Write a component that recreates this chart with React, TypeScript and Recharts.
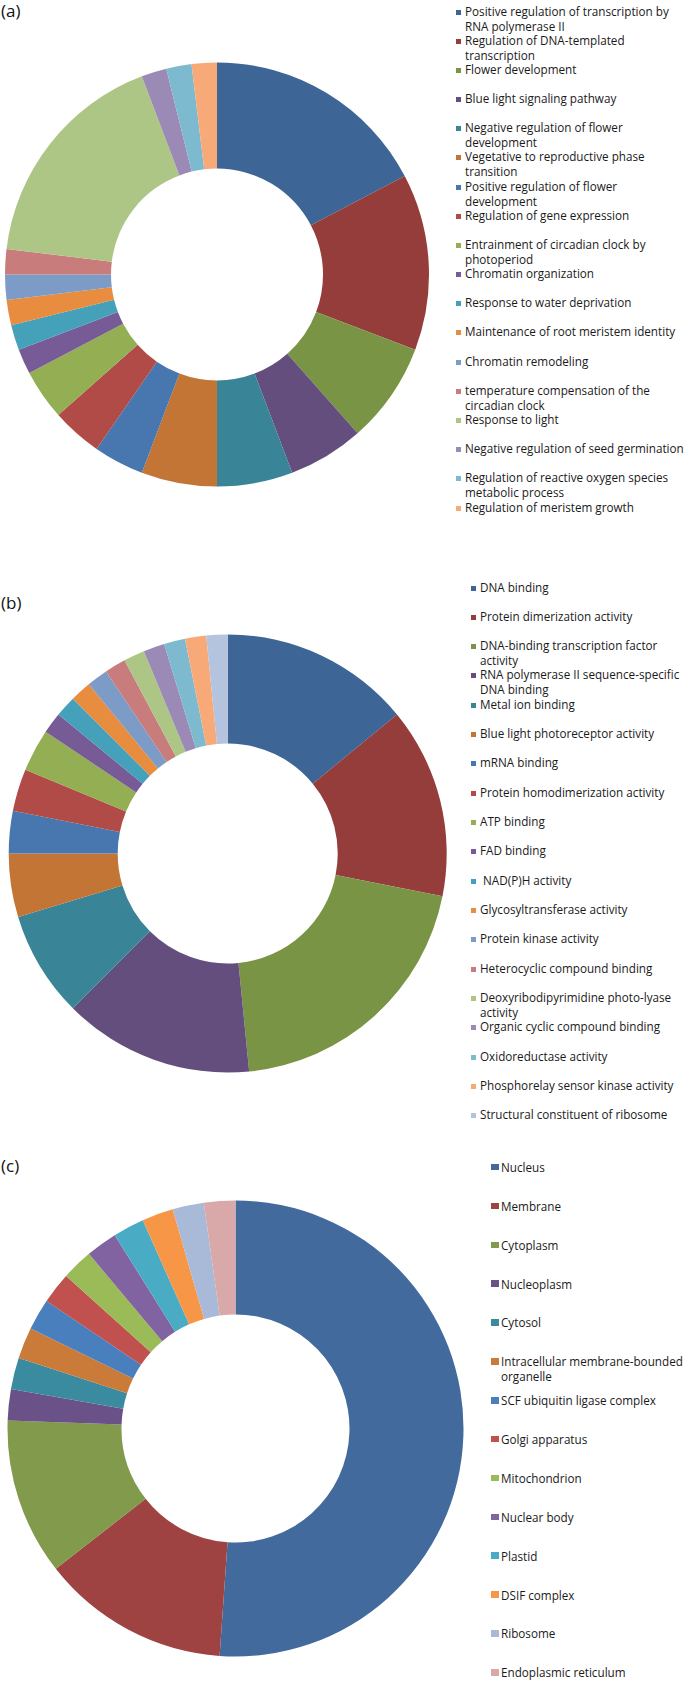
import React from 'react';
import { PieChart, Pie, Legend } from 'recharts';

// (a) Biological process
const bpNames = [
  'Positive regulation of transcription by\nRNA polymerase II',
  'Regulation of DNA-templated\ntranscription',
  'Flower development',
  'Blue light signaling pathway',
  'Negative regulation of flower\ndevelopment',
  'Vegetative to reproductive phase\ntransition',
  'Positive regulation of flower\ndevelopment',
  'Regulation of gene expression',
  'Entrainment of circadian clock by\nphotoperiod',
  'Chromatin organization',
  'Response to water deprivation',
  'Maintenance of root meristem identity',
  'Chromatin remodeling',
  'temperature compensation of the\ncircadian clock',
  'Response to light',
  'Negative regulation of seed germination',
  'Regulation of reactive oxygen species\nmetabolic process',
  'Regulation of meristem growth',
];
const bpValues = [9, 7, 4, 3, 3, 3, 2, 2, 2, 1, 1, 1, 1, 1, 9, 1, 1, 1];
const bpColors = [
  '#3D6696', '#943D3B', '#7A9446', '#644E7E', '#398496', '#C27535',
  '#4876AF', '#B04B48', '#93AE53', '#775B97', '#45A1BA', '#E88C40',
  '#7C9BC7', '#C97C7C', '#ADC686', '#9B8AB5', '#7DBAD0', '#F7AA77',
];

// (b) Molecular function
const mfNames = [
  'DNA binding',
  'Protein dimerization activity',
  'DNA-binding transcription factor\nactivity',
  'RNA polymerase II sequence-specific\nDNA binding',
  'Metal ion binding',
  'Blue light photoreceptor activity',
  'mRNA binding',
  'Protein homodimerization activity',
  'ATP binding',
  'FAD binding',
  ' NAD(P)H activity',
  'Glycosyltransferase activity',
  'Protein kinase activity',
  'Heterocyclic compound binding',
  'Deoxyribodipyrimidine photo-lyase\nactivity',
  'Organic cyclic compound binding',
  'Oxidoreductase activity',
  'Phosphorelay sensor kinase activity',
  'Structural constituent of ribosome',
];
const mfValues = [9, 9, 13, 9, 5, 3, 2, 2, 2, 1, 1, 1, 1, 1, 1, 1, 1, 1, 1];
const mfColors = [
  '#3D6696', '#943D3B', '#7A9446', '#644E7E', '#398496', '#C27535',
  '#4876AF', '#B04B48', '#93AE53', '#775B97', '#45A1BA', '#E88C40',
  '#7C9BC7', '#C97C7C', '#ADC686', '#9B8AB5', '#7DBAD0', '#F7AA77', '#B4C3DE',
];

// (c) Cellular component
const ccNames = [
  'Nucleus',
  'Membrane',
  'Cytoplasm',
  'Nucleoplasm',
  'Cytosol',
  'Intracellular membrane-bounded\norganelle',
  'SCF ubiquitin ligase complex',
  'Golgi apparatus',
  'Mitochondrion',
  'Nuclear body',
  'Plastid',
  'DSIF complex',
  'Ribosome',
  'Endoplasmic reticulum',
];
const ccValues = [23, 6, 5, 1, 1, 1, 1, 1, 1, 1, 1, 1, 1, 1];
const ccColors = [
  '#426A9C', '#9E4342', '#819A4B', '#6A5289', '#3A8AA0', '#CB7B39',
  '#4A7FBE', '#C0514F', '#9BBA58', '#8063A0', '#4AABC5', '#F79647',
  '#A9B9D8', '#D9A9A9',
];

const panelLabels = ['(a)', '(b)', '(c)'];

const FONT = '"Open Sans", Lato, sans-serif';

type LegendCfg = {
  textX: number;
  sqX: number;
  sqW: number;
  sqH: number;
  sqTop: number;
  firstTop: number;
  step: number;
  fontSize: number;
  lineHeight: number;
  height: number;
};

function makeLegend(names: string[], colors: string[], cfg: LegendCfg) {
  return () => (
    <div style={{ position: 'relative', width: 685, height: cfg.height }}>
      {names.map((n, i) => (
        <div
          key={i}
          style={{
            position: 'absolute',
            left: cfg.textX,
            top: cfg.firstTop + i * cfg.step,
            whiteSpace: 'pre',
            fontFamily: FONT,
            fontSize: cfg.fontSize,
            lineHeight: `${cfg.lineHeight}px`,
            color: '#1a1a1a',
          }}
        >
          <span
            style={{
              position: 'absolute',
              left: cfg.sqX - cfg.textX,
              top: cfg.sqTop,
              width: cfg.sqW,
              height: cfg.sqH,
              background: colors[i],
            }}
          />
          {n}
        </div>
      ))}
    </div>
  );
}

function toData(names: string[], values: number[], colors: string[]) {
  return names.map((n, i) => ({ name: n.replace('\n', ' ').trim(), value: values[i], fill: colors[i] }));
}

const bpData = toData(bpNames, bpValues, bpColors);
const mfData = toData(mfNames, mfValues, mfColors);
const ccData = toData(ccNames, ccValues, ccColors);

type PanelProps = {
  top: number;
  height: number;
  data: { name: string; value: number; fill: string }[];
  cx: number;
  cy: number;
  inner: number;
  outer: number;
  legend: () => React.ReactElement;
};

function Panel({ top, height, data, cx, cy, inner, outer, legend }: PanelProps) {
  return (
    <div style={{ position: 'absolute', left: 0, top, width: 685, height }}>
      <PieChart width={685} height={height} margin={{ top: 0, right: 0, bottom: 0, left: 0 }}>
        <Pie
          data={data}
          dataKey="value"
          nameKey="name"
          cx={cx}
          cy={cy}
          innerRadius={inner}
          outerRadius={outer}
          startAngle={90}
          endAngle={-270}
          stroke="none"
          isAnimationActive={false}
        />
        <Legend
          layout="horizontal"
          align="center"
          verticalAlign="middle"
          content={legend}
          wrapperStyle={{ left: 0, top: 0, width: 685, height, pointerEvents: 'none' }}
        />
      </PieChart>
    </div>
  );
}

const labelTops = [1, 593, 1156];

export default function App() {
  return (
    <div style={{ position: 'absolute', left: 0, top: 0, width: 685, height: 1681, background: '#fff', overflow: 'hidden' }}>
      <Panel
        top={0}
        height={560}
        data={bpData}
        cx={217}
        cy={274.5}
        inner={106}
        outer={212}
        legend={makeLegend(bpNames, bpColors, {
          textX: 465, sqX: 456, sqW: 5, sqH: 5, sqTop: 6, firstTop: 3.5, step: 29.18,
          fontSize: 11.7, lineHeight: 15, height: 560,
        })}
      />
      <Panel
        top={560}
        height={590}
        data={mfData}
        cx={227.7}
        cy={293.5}
        inner={110}
        outer={219}
        legend={makeLegend(mfNames, mfColors, {
          textX: 480, sqX: 471, sqW: 5, sqH: 5, sqTop: 6, firstTop: 19.5, step: 29.33,
          fontSize: 11.7, lineHeight: 15, height: 590,
        })}
      />
      <Panel
        top={1150}
        height={531}
        data={ccData}
        cx={235.5}
        cy={278.5}
        inner={114}
        outer={228}
        legend={makeLegend(ccNames, ccColors, {
          textX: 501, sqX: 491, sqW: 8, sqH: 6.5, sqTop: 3.8, firstTop: 10, step: 38.87,
          fontSize: 11.7, lineHeight: 15, height: 531,
        })}
      />
      {panelLabels.map((t, i) => (
        <div
          key={t}
          style={{
            position: 'absolute',
            left: 1,
            top: labelTops[i],
            fontFamily: FONT,
            fontSize: 17,
            lineHeight: '20px',
            color: '#111',
          }}
        >
          {t}
        </div>
      ))}
    </div>
  );
}
